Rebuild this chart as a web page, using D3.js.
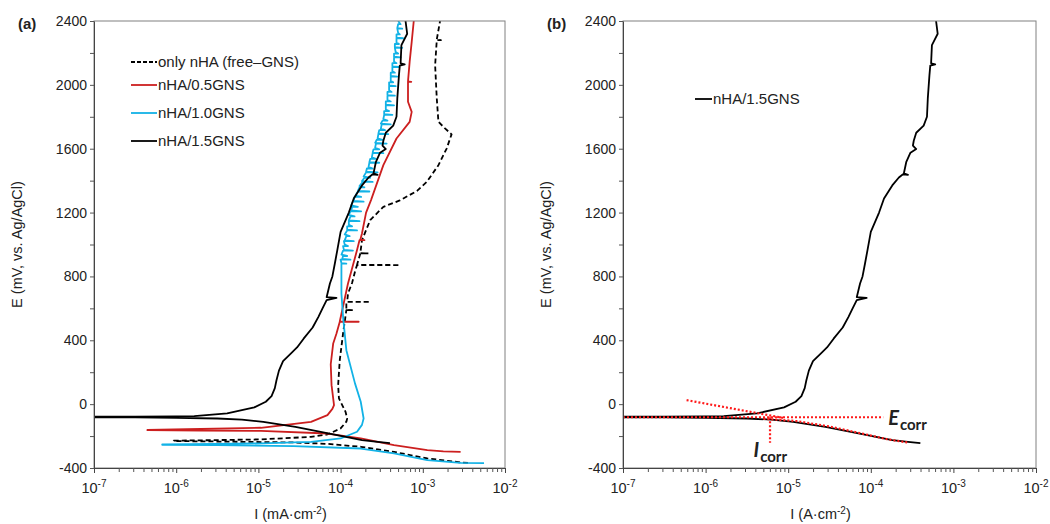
<!DOCTYPE html>
<html>
<head>
<meta charset="utf-8">
<script src="https://cdn.jsdelivr.net/npm/d3@7"></script>
<style>
body{margin:0;background:#fff;}
svg text{font-family:"Liberation Sans",Arial,sans-serif;fill:#222;}
</style>
</head>
<body>
<svg id="chart" width="1050" height="524"></svg>
<script>
// ---- data: [log10(I), E (mV)] ----
var yTickValues = [-400,-200,0,200,400,600,800,1000,1200,1400,1600,1800,2000,2200,2400];
var xDecades = [-7,-6,-5,-4,-3,-2];
var seriesNames = ["only nHA (free\u2013GNS)","nHA/0.5GNS","nHA/1.0GNS","nHA/1.5GNS"];
var seriesColors = ["#000000","#cc1f1f","#12b2e6","#000000"];

var onlyNHA = [
    [-2.45,-368],[-2.54,-365],[-2.945,-340],[-3.35,-299],[-3.755,-267],[-4.16,-249],[-4.57,-240],[-5.5,-234],[-6.03,-231],
    [-6.03,-229],[-5.5,-225],[-4.97,-221],[-4.36,-205],[-4.16,-190],[-4.0,-152],[-3.93,-110],[-3.92,-90],[-3.94,-48],
    [-4.02,36],[-4.03,119],[-4.01,276],[-3.97,443],[-3.93,589],[-3.86,589],[-3.93,592],[-3.93,641],[-3.64,641],
    [-3.92,641],[-3.91,693],[-3.86,760],[-3.82,840],[-3.8,871],[-3.28,871],[-3.8,873],[-3.76,944],[-3.66,944],
    [-3.76,946],[-3.74,1027],[-3.64,1153],[-3.48,1236],[-3.28,1276],[-3.07,1336],[-2.95,1393],[-2.81,1497],
    [-2.71,1601],[-2.65,1690],[-2.73,1727],[-2.81,1769],[-2.83,1915],[-2.85,2123],[-2.83,2280],[-2.78,2280],
    [-2.83,2284],[-2.79,2400]
];
var nHA05 = [
    [-2.54,-299],[-2.75,-296],[-2.945,-288],[-3.35,-257],[-3.755,-215],[-4.16,-184],[-4.97,-168],[-5.7,-165],[-6.35,-163],
    [-6.35,-161],[-5.7,-155],[-4.97,-148],[-4.36,-111],[-4.16,-69],[-4.1,-30],[-4.08,-6],[-4.11,119],[-4.12,250],
    [-4.09,380],[-4.05,443],[-4.01,516],[-3.78,516],[-4.01,518],[-3.91,756],[-3.8,965],[-3.77,1027],[-3.71,1027],
    [-3.76,1030],[-3.74,1069],[-3.69,1200],[-3.63,1278],[-3.48,1497],[-3.32,1664],[-3.16,1768],[-3.135,1831],
    [-3.18,1894],[-3.18,2019],[-3.14,2019],[-3.18,2022],[-3.16,2144],[-3.135,2269],[-3.11,2400]
];
var nHA10 = [
    [-2.255,-369],[-2.54,-368],[-2.945,-351],[-3.35,-309],[-3.755,-278],[-4.57,-263],[-5.5,-257],[-6.17,-255],
    [-6.17,-252],[-5.5,-249],[-4.97,-246],[-4.36,-236],[-4.0,-215],[-3.8,-173],[-3.74,-130],[-3.72,-90],[-3.755,15],
    [-3.825,130],[-3.93,338],[-3.97,547],[-3.99,693],[-3.99,860],
    [-3.99,880],[-3.93,880],[-3.99,884],[-4.0,905],[-3.88,905],[-3.98,910],[-3.97,928],[-3.92,928],[-3.99,936],
    [-3.97,962],[-3.85,962],[-3.96,966],[-3.97,990],[-3.91,990],[-3.95,1000],[-3.96,1021],[-3.84,1021],[-3.95,1026],
    [-3.93,1052],[-3.89,1052],[-3.95,1063],[-3.92,1088],[-3.8,1088],[-3.92,1093],[-3.92,1114],[-3.86,1114],[-3.9,1123],
    [-3.9,1146],[-3.77,1146],[-3.9,1151],[-3.88,1176],[-3.83,1176],[-3.9,1186],[-3.88,1208],[-3.75,1208],[-3.87,1213],
    [-3.86,1236],[-3.79,1236],[-3.87,1245],[-3.85,1268],[-3.72,1268],[-3.84,1273],[-3.83,1298],[-3.75,1298],[-3.82,1306],
    [-3.79,1332],[-3.65,1332],[-3.79,1336],[-3.77,1358],[-3.71,1358],[-3.77,1366],[-3.73,1392],[-3.61,1392],[-3.74,1397],
    [-3.71,1418],[-3.64,1418],[-3.72,1426],[-3.69,1452],[-3.55,1452],[-3.69,1456],[-3.68,1476],[-3.61,1476],[-3.66,1486],
    [-3.65,1512],[-3.53,1512],[-3.65,1516],[-3.64,1536],[-3.57,1536],[-3.62,1546],[-3.61,1572],[-3.48,1572],[-3.61,1576],
    [-3.6,1596],[-3.53,1596],[-3.58,1606],[-3.57,1632],[-3.44,1632],[-3.58,1637],[-3.56,1656],[-3.49,1656],[-3.55,1665],
    [-3.54,1692],[-3.42,1692],[-3.54,1696],[-3.53,1716],[-3.46,1716],[-3.51,1726],[-3.5,1752],[-3.39,1752],[-3.51,1757],
    [-3.49,1776],[-3.43,1776],[-3.48,1786],[-3.47,1812],[-3.37,1812],[-3.47,1816],[-3.47,1836],[-3.41,1836],[-3.45,1846],
    [-3.45,1872],[-3.35,1872],[-3.45,1876],[-3.45,1896],[-3.39,1896],[-3.43,1906],[-3.43,1932],[-3.34,1932],[-3.43,1936],
    [-3.43,1956],[-3.38,1956],[-3.41,1966],[-3.41,1992],[-3.33,1992],[-3.41,1996],[-3.41,2016],[-3.36,2016],[-3.39,2026],
    [-3.39,2052],[-3.31,2052],[-3.39,2056],[-3.39,2076],[-3.34,2076],[-3.37,2086],[-3.37,2112],[-3.29,2112],[-3.37,2116],
    [-3.37,2136],[-3.32,2136],[-3.35,2146],[-3.35,2172],[-3.27,2172],[-3.35,2176],[-3.35,2196],[-3.3,2196],[-3.33,2206],
    [-3.34,2232],[-3.25,2232],[-3.34,2236],[-3.34,2256],[-3.29,2256],[-3.32,2266],[-3.32,2292],[-3.24,2292],[-3.32,2296],
    [-3.32,2316],[-3.28,2316],[-3.3,2326],[-3.31,2352],[-3.25,2352],[-3.31,2356],[-3.3,2380],[-3.27,2380],[-3.3,2400]
];
var nHA15 = [
    [-3.4,-244],[-3.55,-236],[-3.74,-225],[-4.15,-183],[-4.55,-142],[-4.94,-111],[-5.2,-97],[-5.5,-90],[-6.0,-86],[-6.5,-83],[-7.0,-82],
    [-7.0,-79],[-6.5,-79],[-6.0,-77],[-5.78,-75],[-5.38,-58],[-5.05,-20],[-4.91,15],[-4.84,50],[-4.8,100],[-4.78,150],
    [-4.75,210],[-4.7,270],[-4.6,320],[-4.53,355],[-4.45,410],[-4.34,480],[-4.27,547],[-4.22,600],[-4.17,651],
    [-4.05,665],[-4.17,670],[-4.13,756],[-4.1,800],[-4.07,881],[-4.04,965],[-4.0,1079],[-3.9,1200],[-3.84,1288],
    [-3.74,1370],[-3.66,1420],[-3.61,1440],[-3.55,1436],[-3.6,1445],[-3.57,1518],[-3.52,1575],[-3.45,1598],
    [-3.49,1620],[-3.48,1650],[-3.45,1700],[-3.36,1745],[-3.32,1800],[-3.31,1915],[-3.29,2061],[-3.28,2120],
    [-3.22,2128],[-3.27,2135],[-3.26,2249],[-3.19,2320],[-3.21,2400]
];
// Tafel construction lines of panel (b)
var ecorrLine = [[-7.0,-82],[-3.85,-82]];
var anodicTafel = [[-6.23,25],[-5.06,-86]];
var cathodicTafel = [[-5.3,-92],[-4.9,-106],[-4.5,-140],[-4.1,-185],[-3.8,-220],[-3.56,-240]];
var icorrLine = [[-5.22,-82],[-5.22,-242]];

class PolarizationPanel{

    constructor(container,panelID,screenX,screenY,plotWidth,plotHeight){
	this.panelID = panelID;
	this.area = {x:screenX,y:screenY,width:plotWidth,height:plotHeight};
	this.canvas = container.append("g")
	    .attr("id","panel_"+panelID)
	    .attr("transform","translate("+screenX+","+screenY+")");
	this.xScale = d3.scaleLog().domain([1e-7,1e-2]).range([0,plotWidth]);
	this.yScale = d3.scaleLinear().domain([-400,2400]).range([plotHeight,0]);
	this.canvas.append("clipPath").attr("id","clip_"+panelID)
	    .append("rect").attr("width",plotWidth).attr("height",plotHeight);
	this.plot = this.canvas.append("g").attr("clip-path","url(#clip_"+panelID+")");
	var xs = this.xScale, ys = this.yScale;
	this.line = d3.line()
	    .x(function(d){ return xs(Math.pow(10,d[0])); })
	    .y(function(d){ return ys(d[1]); });
    }

    drawAxes(letter,unitLabel){
	var w = this.area.width, h = this.area.height;
	var xs = this.xScale, ys = this.yScale;
	//frame
	this.canvas.append("rect").attr("width",w).attr("height",h)
	    .attr("fill","none").attr("stroke","#808080").attr("stroke-width",1);
	//minor x ticks
	var minor = [];
	xDecades.forEach(function(p){
	    for(var k = 2; k < 10; ++k){ if(p < -2) minor.push(k*Math.pow(10,p)); }
	});
	var majors = xDecades.map(function(p){ return Math.pow(10,p); });
	this.canvas.append("g").attr("transform","translate(0,"+h+")")
	    .call(d3.axisBottom(xs).tickValues(minor).tickSize(4).tickSizeOuter(0).tickFormat(""))
	    .call(function(g){ g.selectAll("line").attr("stroke","#555"); g.select(".domain").attr("stroke","#444"); });
	var xAxis = this.canvas.append("g").attr("transform","translate(0,"+h+")")
	    .call(d3.axisBottom(xs).tickValues(majors).tickSize(5).tickSizeOuter(0).tickFormat(""));
	xAxis.select(".domain").remove();
	xAxis.selectAll("line").attr("stroke","#444");
	//tick labels 10^n
	var labels = this.canvas.append("g").selectAll("text").data(xDecades).enter()
	    .append("text")
	    .attr("x",function(d){ return xs(Math.pow(10,d)); })
	    .attr("y",h+25)
	    .attr("text-anchor","middle")
	    .style("font-size","14.5px");
	labels.append("tspan").text("10");
	labels.append("tspan").attr("dy",-6).style("font-size","10px").text(function(d){ return d; });
	//y axis
	var yAxis = this.canvas.append("g")
	    .call(d3.axisLeft(ys).tickValues(yTickValues).tickSize(4).tickSizeOuter(0).tickPadding(3)
		  .tickFormat(function(d){ return d % 400 === 0 ? d : ""; }));
	yAxis.select(".domain").attr("stroke","#444");
	yAxis.selectAll("line").attr("stroke","#555");
	yAxis.selectAll("text").style("font-size","14px").style("font-family","Liberation Sans, Arial, sans-serif").attr("fill","#222");
	//titles
	this.canvas.append("text")
	    .attr("transform","translate("+(-72)+","+(h/2)+") rotate(-90)")
	    .attr("text-anchor","middle").style("font-size","14.5px")
	    .text("E (mV, vs. Ag/AgCl)");
	var xt = this.canvas.append("text").attr("x",w/2-9).attr("y",h+51)
	    .attr("text-anchor","middle").style("font-size","14.5px");
	xt.append("tspan").text("I ("+unitLabel+"\u00b7cm");
	xt.append("tspan").attr("dy",-5).style("font-size","10px").text("-2");
	xt.append("tspan").attr("dy",5).text(")");
	this.canvas.append("text").attr("x",-76).attr("y",8)
	    .style("font-size","15px").style("font-weight","bold").text("("+letter+")");
    }

    drawSeries(data,color,dashed){
	this.plot.append("path")
	    .attr("d",this.line(data))
	    .attr("fill","none")
	    .attr("stroke",color)
	    .attr("stroke-width",1.8)
	    .attr("stroke-linejoin","round")
	    .attr("stroke-dasharray",dashed ? "5,3" : null);
    }

    drawGuide(data){
	this.plot.append("path")
	    .attr("d",this.line(data))
	    .attr("fill","none")
	    .attr("stroke","#ff1a1a")
	    .attr("stroke-width",2.2)
	    .attr("stroke-dasharray","2,2");
    }

    drawLegend(items,left,top,rowGaps,lineLength){
	var g = this.canvas.append("g").attr("class","legend");
	var y = top;
	items.forEach(function(it,i){
	    if(i > 0) y += rowGaps[i-1];
	    g.append("line").attr("x1",left).attr("x2",left+lineLength).attr("y1",y).attr("y2",y)
		.attr("stroke",it.color).attr("stroke-width",1.8)
		.attr("stroke-dasharray",it.dashed ? "4,2" : null);
	    g.append("text").attr("x",left+lineLength+1).attr("y",y+5).style("font-size","15px").text(it.name);
	});
    }

    drawCorrLabel(symbol,logI,E){
	var t = this.canvas.append("text")
	    .attr("x",this.xScale(Math.pow(10,logI)))
	    .attr("y",this.yScale(E))
	    .style("font-family","Lato, 'Open Sans', sans-serif")
	    .style("font-weight","bold");
	t.append("tspan").style("font-size","20px").style("font-style","italic").style("font-family","Lato, sans-serif").text(symbol);
	t.append("tspan").attr("dy",5).attr("dx",1).style("font-size","15px").style("font-family","Lato, sans-serif").text("corr");
    }
}

var svg = d3.select("#chart");

var panelA = new PolarizationPanel(svg,"a",94,21,411,447);
panelA.drawAxes("a","mA");
panelA.drawSeries(onlyNHA,seriesColors[0],true);
panelA.drawSeries(nHA05,seriesColors[1],false);
panelA.drawSeries(nHA10,seriesColors[2],false);
panelA.drawSeries(nHA15,seriesColors[3],false);
panelA.drawLegend(seriesNames.map(function(n,i){ return {name:n,color:seriesColors[i],dashed:i===0}; }),37,41,[23,28,28],26);

var panelB = new PolarizationPanel(svg,"b",623,21,413,447);
panelB.drawAxes("b","A");
panelB.drawSeries(nHA15,seriesColors[3],false);
panelB.drawGuide(ecorrLine);
panelB.drawGuide(anodicTafel);
panelB.drawGuide(cathodicTafel);
panelB.drawGuide(icorrLine);
panelB.drawLegend([{name:seriesNames[3],color:seriesColors[3],dashed:false}],72,78,[],17);
panelB.drawCorrLabel("E",-3.79,-131);
panelB.drawCorrLabel("I",-5.42,-330);
</script>
</body>
</html>
